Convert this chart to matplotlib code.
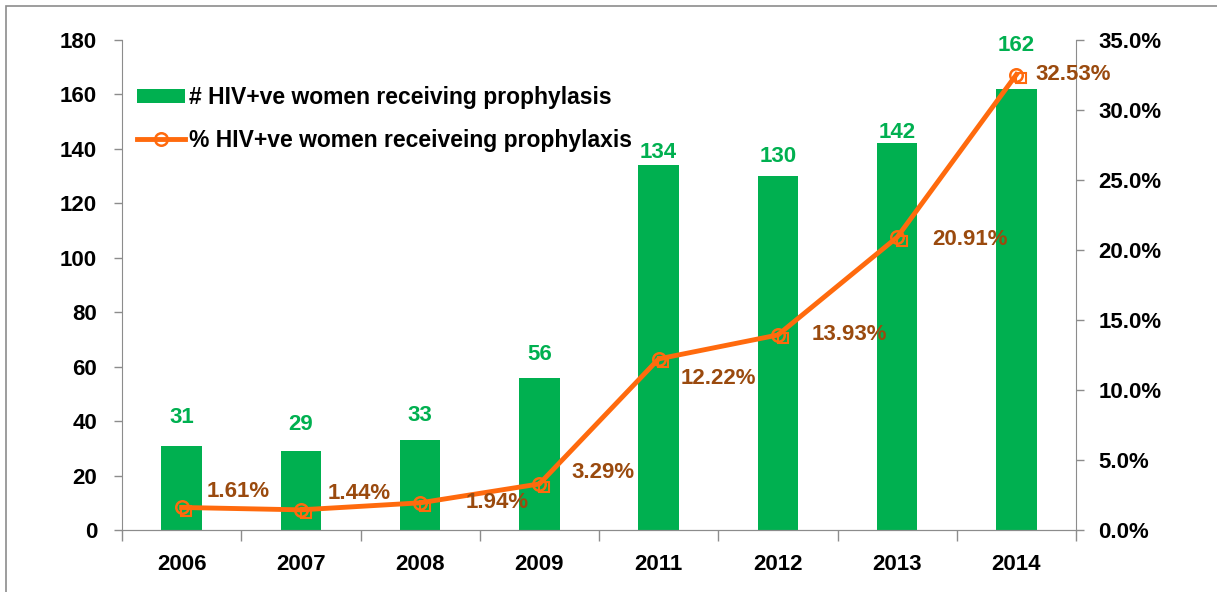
import numpy as np
import matplotlib.pyplot as plt
from matplotlib.patches import Rectangle

years = ["2006", "2007", "2008", "2009", "2011", "2012", "2013", "2014"]
women_count = [31, 29, 33, 56, 134, 130, 142, 162]
women_pct = [1.61, 1.44, 1.94, 3.29, 12.22, 13.93, 20.91, 32.53]

# label offsets in points (as placed in the original chart)
count_offsets = [20, 19, 18, 16.5, 9, 14, 8, 31]
pct_offsets = [(18, 11.5), (19, 12), (33, 0), (23, 8.5), (16, -14), (24, 0), (25, -1.5), (14, 0)]

GREEN = "#00B050"
ORANGE = "#FF6A0D"
BROWN = "#9A4A0E"
GRAY = "#8C8C8C"

plt.rcParams['font.family'] = ['Liberation Sans', 'DejaVu Sans']
plt.rcParams['font.weight'] = 'bold'
FS = 16

fig = plt.figure(figsize=(12.17, 5.92), dpi=100)
ax = fig.add_axes([122 / 1217, 1 - 530 / 592, (1076 - 122) / 1217, 490 / 592])
ax2 = ax.twinx()

x = np.arange(len(years))
bars = ax.bar(x, women_count, width=0.34, color=GREEN, zorder=2,
              label="# HIV+ve women receiving prophylasis")
for xi, v, off in zip(x, women_count, count_offsets):
    ax.annotate(str(v), (xi, v), xytext=(0, off), textcoords="offset points",
                ha="center", va="center", color=GREEN, fontsize=FS, fontweight="bold")

line, = ax2.plot(x, women_pct, color=ORANGE, lw=3.5, marker="o", ms=9,
                 mfc="none", mec=ORANGE, mew=1.8, zorder=3,
                 label="% HIV+ve women receiveing prophylaxis")
ax2.plot(x + 0.04, np.array(women_pct) - 0.25, ls="none", marker="s", ms=7,
         mfc="none", mec=ORANGE, mew=1.5, zorder=3)
for xi, v, off in zip(x, women_pct, pct_offsets):
    ax2.annotate("%.2f%%" % v, (xi, v), xytext=off, textcoords="offset points",
                 ha="left", va="center", color=BROWN, fontsize=FS, fontweight="bold")

ax.set_xlim(-0.5, len(years) - 0.5)
ax.set_ylim(0, 180)
ax.set_yticks(np.arange(0, 181, 20))
ax2.set_ylim(0, 35)
ax2.set_yticks(np.arange(0, 35.1, 5))
ax2.set_yticklabels(["%.1f%%" % t for t in np.arange(0, 35.1, 5)])

ax.set_xticks(x)
ax.set_xticklabels(years)
ax.set_xticks(np.arange(-0.5, len(years), 1), minor=True)
ax.tick_params(axis="x", which="major", length=0, pad=17, labelsize=FS)
ax.tick_params(axis="x", which="minor", length=8, color=GRAY, width=1)
ax.tick_params(axis="y", length=6, color=GRAY, width=1, pad=12, labelsize=FS)
ax2.tick_params(axis="y", length=6, color=GRAY, width=1, pad=10, labelsize=FS)

for a in (ax, ax2):
    a.spines["top"].set_visible(False)
    for s in ("left", "right", "bottom"):
        a.spines[s].set_color(GRAY)
ax.spines["right"].set_visible(False)
ax2.spines["left"].set_visible(False)

leg = ax.legend([bars, line], [bars.get_label(), line.get_label()],
                loc="upper left", bbox_to_anchor=(0.0157, 0.906), frameon=False,
                borderpad=0, borderaxespad=0, fontsize=16.5,
                handlelength=2.1, handleheight=0.55, handletextpad=0.17, labelspacing=0.85)

fig.add_artist(Rectangle((6 / 1217, -0.5), 2, 0.5 + (1 - 6 / 592), transform=fig.transFigure,
                         fill=False, edgecolor=GRAY, lw=1.2, clip_on=False))

fig.savefig("out.png", dpi=100)
